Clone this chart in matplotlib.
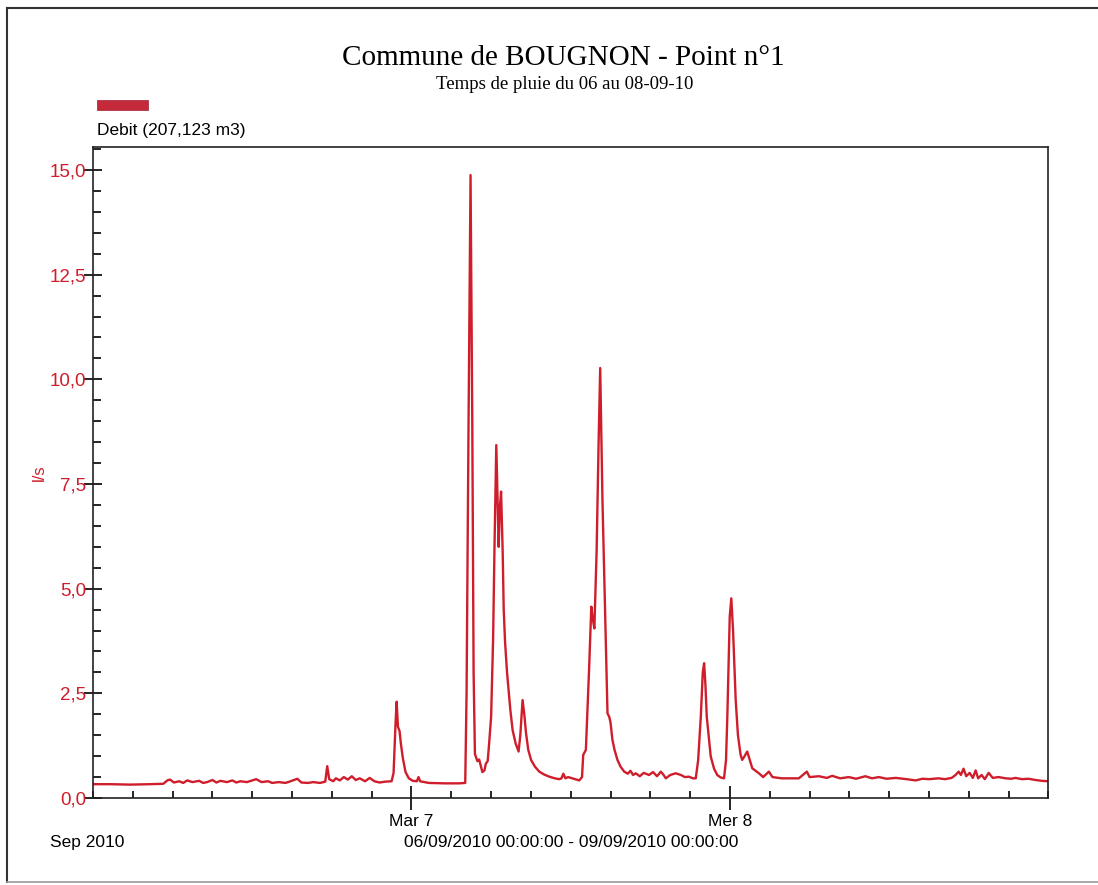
import matplotlib
matplotlib.use("Agg")
import matplotlib.pyplot as plt
import matplotlib.ticker as mtick
from matplotlib.patches import Rectangle
from matplotlib.lines import Line2D

# Debit, heures depuis le 06/09/2010 00:00
heures = [0, 1.3, 2.8, 4.3, 5.3, 5.6, 5.8, 6.1, 6.5, 6.8, 7.1, 7.5, 8.0, 8.3, 8.6, 9.0, 9.3, 9.6,
          10.1, 10.5, 10.8, 11.1, 11.6, 12.0, 12.3, 12.7, 13.2, 13.5, 14.0, 14.5, 14.8, 15.4, 15.7,
          16.2, 16.6, 17.1, 17.5, 17.65, 17.8, 18.1, 18.3, 18.6, 18.9, 19.2, 19.5, 19.8, 20.1, 20.5,
          20.85, 21.2, 21.6, 22.0, 22.5,
          22.65, 22.8, 22.88, 22.98, 23.1, 23.2, 23.35, 23.55, 23.8, 24.1, 24.4, 24.53, 24.65, 25.3,
          26.5, 27.6, 28.05,
          28.15, 28.3, 28.45, 28.58, 28.68, 28.78, 28.97, 29.1, 29.34, 29.5, 29.6, 29.74, 29.85, 30.0,
          30.15, 30.25, 30.39, 30.49, 30.57, 30.65, 30.75, 30.87, 30.95, 31.05, 31.2, 31.32, 31.45,
          31.62, 31.85, 32.07, 32.2, 32.37, 32.5, 32.63, 32.8, 33.01, 33.3, 33.63, 34.0, 34.38, 34.8,
          35.13, 35.3, 35.44, 35.6, 35.8, 36.11, 36.4, 36.64, 36.85,
          36.94, 37.14, 37.39, 37.55, 37.65, 37.78, 37.95, 38.1, 38.22, 38.39, 38.57, 38.7, 38.77,
          38.9, 39.0, 39.14, 39.3, 39.52, 39.75, 40.03, 40.3, 40.5, 40.7, 40.9, 41.2, 41.5, 41.9,
          42.2, 42.5, 42.79, 43.0, 43.16, 43.5, 43.91, 44.3, 44.6, 44.91, 45.2, 45.42, 45.6,
          45.8, 45.95, 46.05, 46.15, 46.25, 46.55, 46.8, 47.04, 47.3, 47.55, 47.7, 47.8, 47.98, 48.1,
          48.23, 48.43, 48.6, 48.8, 48.92, 49.1, 49.3, 49.5, 49.68, 50.18, 50.5, 50.93, 51.2, 51.91,
          52.5, 53.19, 53.79, 54.0, 54.7, 55.3, 55.7, 56.3, 56.95, 57.5, 58.2, 58.7, 59.21, 59.8,
          60.5, 61.3, 61.99, 62.5, 63.0, 63.72, 64.2, 64.7, 65.0, 65.23, 65.4, 65.6, 65.8, 66.06,
          66.3, 66.51, 66.7, 66.96, 67.2, 67.49, 67.8, 68.24, 68.77, 69.2, 69.52, 70.0, 70.5, 71.02,
          71.5, 72]
debit = [0.33, 0.33, 0.32, 0.33, 0.34, 0.42, 0.44, 0.37, 0.40, 0.36, 0.42, 0.38, 0.41, 0.36, 0.38,
         0.43, 0.37, 0.41, 0.38, 0.42, 0.37, 0.40, 0.38, 0.42, 0.45, 0.38, 0.40, 0.36, 0.38, 0.36,
         0.39, 0.46, 0.37, 0.36, 0.38, 0.36, 0.39, 0.76, 0.45, 0.40, 0.47, 0.42, 0.50, 0.44, 0.52,
         0.43, 0.47, 0.40, 0.48, 0.40, 0.37, 0.39, 0.40,
         0.6, 1.8, 2.30, 1.7, 1.6, 1.3, 0.95, 0.62, 0.47, 0.41, 0.40, 0.50, 0.40, 0.36,
         0.35, 0.35, 0.36,
         2.5, 9.0, 14.88, 9.0, 3.0, 1.05, 0.88, 0.92, 0.62, 0.66, 0.82, 0.88, 1.3, 1.94,
         3.8, 5.9, 8.43, 7.1, 6.0, 6.9, 7.32, 5.9, 4.5, 3.73, 3.0, 2.58, 2.1,
         1.62, 1.3, 1.11, 1.5, 2.34, 2.0, 1.55, 1.15, 0.91, 0.75, 0.63, 0.56, 0.51, 0.47,
         0.45, 0.47, 0.58, 0.47, 0.50, 0.47, 0.44, 0.42, 0.50,
         1.03, 1.15, 3.14, 4.57, 4.3, 4.05, 5.9, 8.5, 10.27, 7.12, 4.73, 3.0, 2.02,
         1.94, 1.8, 1.39, 1.15, 0.91, 0.75, 0.63, 0.58, 0.65, 0.55, 0.59, 0.52, 0.60, 0.55,
         0.62, 0.52, 0.63, 0.55, 0.47, 0.55, 0.59, 0.55, 0.50, 0.51, 0.47, 0.47, 0.9,
         1.94, 3.0, 3.22, 2.7, 1.94, 0.99, 0.70, 0.55, 0.49, 0.47, 0.9, 1.94, 4.33, 4.77,
         4.01, 2.34, 1.5, 1.03, 0.91, 1.0, 1.11, 0.90, 0.71, 0.59, 0.50, 0.63, 0.50, 0.47,
         0.47, 0.47, 0.63, 0.50, 0.52, 0.48, 0.53, 0.47, 0.50, 0.46, 0.52, 0.47, 0.50, 0.46,
         0.48, 0.45, 0.42, 0.46, 0.45, 0.47, 0.45, 0.48, 0.55, 0.63, 0.55, 0.70, 0.52, 0.60,
         0.48, 0.66, 0.47, 0.55, 0.45, 0.60, 0.48, 0.50, 0.47, 0.46, 0.48, 0.45, 0.46, 0.43,
         0.41, 0.40]

jours = [24, 48]
jours_labels = ["Mar 7", "Mer 8"]
rouge = "#cf1d2b"

fig = plt.figure(figsize=(10.98, 8.85), dpi=100)
ax = fig.add_axes([0.0847, 0.0983, 0.8702, 0.7356])

ax.plot(heures, debit, color=rouge, linewidth=1.7)

ax.set_xlim(0, 72)
ax.set_ylim(0, 15.55)

# axe x
ax.set_xticks(jours)
ax.set_xticklabels(jours_labels, fontsize=12.5, family="Liberation Sans")
ax.xaxis.set_minor_locator(mtick.MultipleLocator(3))
ax.tick_params(axis="x", which="major", direction="inout", length=17, width=1.2, pad=3)
ax.tick_params(axis="x", which="minor", direction="in", length=5, width=1.2)

# axe y
ax.yaxis.set_major_locator(mtick.MultipleLocator(2.5))
ax.yaxis.set_minor_locator(mtick.MultipleLocator(0.5))
ax.yaxis.set_major_formatter(mtick.FuncFormatter(lambda v, p: f"{v:.1f}".replace(".", ",")))
ax.tick_params(axis="y", which="major", direction="inout", length=13, width=1.2, pad=-1.5,
               labelcolor=rouge, labelsize=13.5)
ax.tick_params(axis="y", which="minor", direction="in", length=6, width=1.2)
for lab in ax.get_yticklabels():
    lab.set_family("Liberation Sans")
ax.set_ylabel("l/s", color=rouge, fontsize=12, family="Liberation Sans", labelpad=2)

for s in ax.spines.values():
    s.set_linewidth(1.2)
    s.set_color("#222222")

# titres
fig.text(0.513, 0.935, "Commune de BOUGNON - Point n°1", ha="center", va="center",
         fontsize=21, family="Liberation Serif")
fig.text(0.514, 0.905, "Temps de pluie du 06 au 08-09-10", ha="center", va="center",
         fontsize=13.5, family="Liberation Serif")

# legende
fig.patches.append(Rectangle((0.0883, 0.8757), 0.0464, 0.0113, transform=fig.transFigure,
                             facecolor="#c42a3a", edgecolor="#a02030", lw=0.5))
fig.text(0.0883, 0.852, "Debit (207,123 m3)", ha="left", va="center", fontsize=12.5,
         family="Liberation Sans")

# textes sous l'axe
fig.text(0.0455, 0.0475, "Sep 2010", ha="left", va="center", fontsize=12.5,
         family="Liberation Sans")
fig.text(0.52, 0.0475, "06/09/2010 00:00:00 - 09/09/2010 00:00:00", ha="center", va="center",
         fontsize=12.5, family="Liberation Sans")

# cadre de la page
W, H = 1098.0, 885.0
fig.add_artist(Line2D([7 / W, 1.0], [1 - 8 / H, 1 - 8 / H], color="#333333", lw=1.5))
fig.add_artist(Line2D([7 / W, 7 / W], [1 - 8 / H, 1 - 882 / H], color="#333333", lw=1.5))
fig.add_artist(Line2D([7 / W, 1.0], [1 - 882 / H, 1 - 882 / H], color="#999999", lw=1.2))

fig.savefig("out.png", dpi=100)
